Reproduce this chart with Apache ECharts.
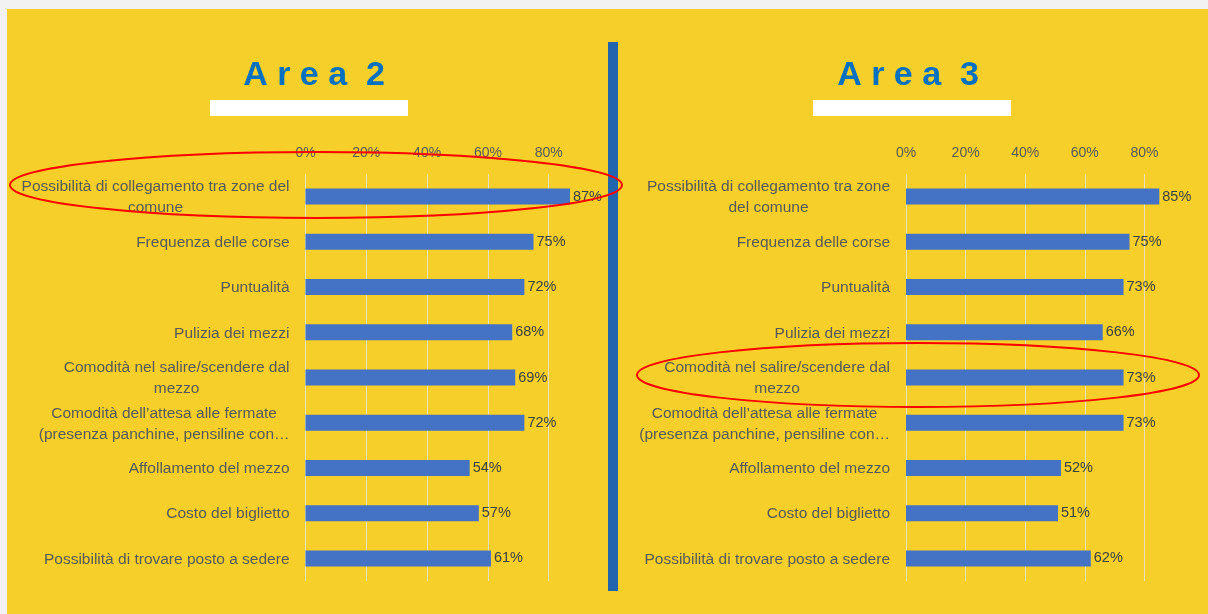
<!DOCTYPE html>
<html>
<head>
<meta charset="utf-8">
<script src="https://cdn.jsdelivr.net/npm/echarts@6/dist/echarts.min.js"></script>
<style>
html,body{margin:0;padding:0;background:#f2f2f2;}
#chart{width:1208px;height:614px;}
</style>
</head>
<body>
<div id="chart"></div>
<script>
// ---- data ----
const titleLeft = 'A r e a  2';
const titleRight = 'A r e a  3';
const categoriesLeft = [
  'Possibilità di collegamento tra zone del\ncomune',
  'Frequenza delle corse',
  'Puntualità',
  'Pulizia dei mezzi',
  'Comodità nel salire/scendere dal\nmezzo',
  'Comodità dell’attesa alle fermate\n(presenza panchine, pensiline con…',
  'Affollamento del mezzo',
  'Costo del biglietto',
  'Possibilità di trovare posto a sedere'
];
const categoriesRight = [
  'Possibilità di collegamento tra zone\ndel comune',
  'Frequenza delle corse',
  'Puntualità',
  'Pulizia dei mezzi',
  'Comodità nel salire/scendere dal\nmezzo',
  'Comodità dell’attesa alle fermate\n(presenza panchine, pensiline con…',
  'Affollamento del mezzo',
  'Costo del biglietto',
  'Possibilità di trovare posto a sedere'
];
const valuesLeft = [87, 75, 72, 68, 69, 72, 54, 57, 61];
const valuesRight = [85, 75, 73, 66, 73, 73, 52, 51, 62];
const tickValues = [0, 20, 40, 60, 80];

// ---- styling ----
const FONT = '"Liberation Sans", Arial, sans-serif';
const YELLOW = '#F6CF2A';
const BAR = '#4472C4';

function catLabel(v) {
  return v.split('\n').map(l => '{c|' + l + '}').join('\n');
}

function xAxisCfg(idx) {
  return {
    type: 'value', gridIndex: idx, position: 'top',
    min: 0, max: 100, interval: 20,
    axisLine: {show: false}, axisTick: {show: false},
    axisLabel: {
      formatter: v => tickValues.indexOf(v) >= 0 ? v + '%' : '',
      showMaxLabel: false,
      color: '#595959', fontSize: 14, fontFamily: FONT, margin: 14
    },
    splitLine: {show: true, showMaxLine: false, lineStyle: {color: 'rgba(228,228,228,0.8)', width: 1}}
  };
}
function yAxisCfg(idx, cats) {
  return {
    type: 'category', gridIndex: idx, inverse: true, data: cats,
    axisLine: {show: false}, axisTick: {show: false},
    axisLabel: {
      margin: 16, align: 'right',
      formatter: catLabel,
      rich: {c: {align: 'center', color: '#595959', fontSize: 15.5, fontFamily: FONT, lineHeight: 21, padding: [2, 0, 0, 0]}}
    },
    splitLine: {show: false}
  };
}
function seriesCfg(idx, vals) {
  return {
    type: 'bar', xAxisIndex: idx, yAxisIndex: idx, data: vals,
    barWidth: 16,
    itemStyle: {color: BAR},
    label: {show: true, position: 'right', distance: 3, formatter: '{c}%',
      color: '#404040', fontSize: 14.5, fontFamily: FONT, padding: [2, 0, 0, 0]}
  };
}

const chart = echarts.init(document.getElementById('chart'), null, {renderer: 'canvas'});
chart.setOption({
  backgroundColor: '#f2f2f2',
  animation: false,
  grid: [
    {left: 305.5, top: 174, width: 304, height: 407},
    {left: 906, top: 174, width: 298, height: 407}
  ],
  xAxis: [xAxisCfg(0), xAxisCfg(1)],
  yAxis: [yAxisCfg(0, categoriesLeft), yAxisCfg(1, categoriesRight)],
  series: [seriesCfg(0, valuesLeft), seriesCfg(1, valuesRight)],
  graphic: [
    {type: 'rect', z: -10, silent: true, shape: {x: 7, y: 9, width: 1201, height: 605}, style: {fill: YELLOW}},
    {type: 'rect', z: 10, silent: true, shape: {x: 608, y: 42, width: 10, height: 549}, style: {fill: '#2165AF'}},
    {type: 'rect', z: 10, silent: true, shape: {x: 210, y: 100, width: 198, height: 16}, style: {fill: '#ffffff'}},
    {type: 'rect', z: 10, silent: true, shape: {x: 813, y: 100, width: 198, height: 16}, style: {fill: '#ffffff'}},
    {type: 'text', z: 10, silent: true, x: 314, y: 76, style: {text: titleLeft, fill: '#0070C0',
      font: 'bold 34px ' + FONT, align: 'center', verticalAlign: 'middle'}},
    {type: 'text', z: 10, silent: true, x: 908, y: 76, style: {text: titleRight, fill: '#0070C0',
      font: 'bold 34px ' + FONT, align: 'center', verticalAlign: 'middle'}},
    {type: 'ellipse', z: 100, silent: true, shape: {cx: 316, cy: 185, rx: 306, ry: 33},
      style: {fill: 'none', stroke: '#FF0000', lineWidth: 2}},
    {type: 'ellipse', z: 100, silent: true, shape: {cx: 918, cy: 375, rx: 281, ry: 32},
      style: {fill: 'none', stroke: '#FF0000', lineWidth: 2}}
  ]
});
</script>
</body>
</html>
